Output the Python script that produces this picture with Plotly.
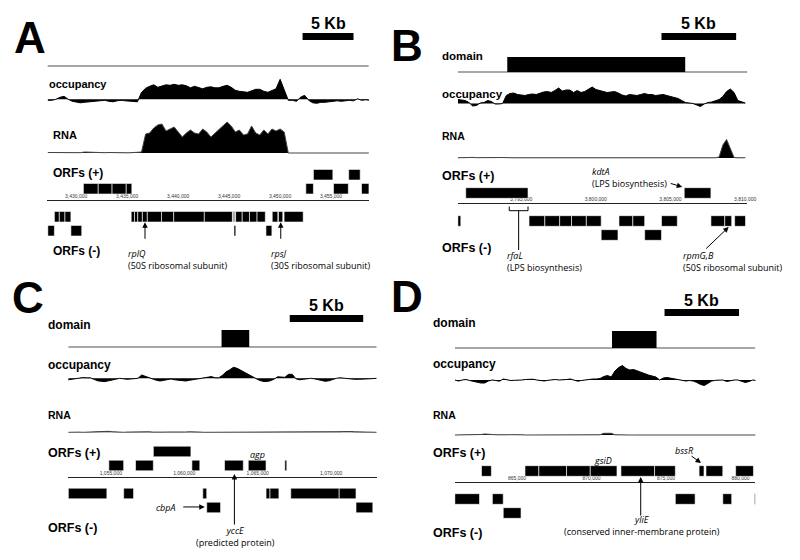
import plotly.graph_objects as go

W, H = 800, 560
SCALE_BP = 5000

# ---------------- panel A  (ribosomal operon, 3.43-3.46 Mb)
A_BIN_START = 3427700
A_BIN = 400
A_OCC = [-0.1, -0.1, 0.0, 0.2, 0.3, 0.0, -0.2, -0.3, -0.35, -0.3,
         -0.25, -0.2, -0.15, -0.1, -0.1, -0.2, -0.25, -0.15, -0.1, -0.15,
         -0.2, -0.25, -0.25, 0.7, 1.1, 1.3, 1.45, 1.2, 1.3, 1.45,
         1.4, 1.5, 1.4, 1.45, 1.35, 1.15, 1.3, 1.2, 1.05, 1.2,
         1.25, 1.15, 1.15, 1.3, 1.4, 1.2, 0.9, 0.8, 0.75, 0.7,
         0.85, 1.0, 1.0, 0.8, 0.7, 0.9, 1.05, 2.0, 0.9, -0.1,
         -0.1, -0.2, 0.2, 0.4, -0.1, -0.35, -0.4, -0.3, -0.3, -0.25,
         -0.2, -0.15, -0.2, -0.15, -0.1, -0.15, 0.05, -0.1, -0.05, -0.1]
A_RNA = [0.05, 0.05, 0.03, 0.02, 0.03, 0.02, 0.02, 0.02, 0.03, 0.1,
         0.08, 0.05, 0.05, 0.03, 0.03, 0.05, 0.06, 0.04, 0.03, 0.02,
         0.02, 0.03, 0.03, 0.1, 1.9, 2.0, 2.5, 2.8, 2.9, 2.2,
         2.4, 2.6, 2.1, 1.6, 2.0, 2.3, 2.0, 1.9, 2.4, 2.1,
         1.6, 2.0, 2.4, 2.7, 3.1, 2.7, 2.1, 2.3, 1.8, 1.9,
         2.7, 2.0, 1.8, 2.3, 1.9, 2.4, 2.2, 2.4, 2.1, 0.0,
         0, 0, 0, 0, 0, 0, 0, 0, 0, 0,
         0, 0, 0, 0, 0, 0, 0, 0, 0, 0]
# (start, end, row)
A_PLUS = [(3431196, 3432651, 1), (3432651, 3434009, 1), (3434009, 3435400, 1), (3435400, 3435949, 1),
          (3453021, 3453765, 1), (3455737, 3457192, 1), (3458486, 3459229, 1),
          (3453765, 3455673, 2), (3457225, 3458356, 2)]
A_MINUS = [(3428351, 3428836, 1), (3428836, 3429386, 1), (3429386, 3429968, 1),
           (3435885, 3436208, 1), (3436208, 3436531, 1), (3436531, 3436984, 1), (3436984, 3437469, 1),
           (3437469, 3438859, 1), (3438859, 3440055, 1), (3440055, 3443062, 1), (3443062, 3445811, 1),
           (3445908, 3446037, 1), (3446134, 3446781, 1), (3446781, 3447492, 1), (3447492, 3448236, 1),
           (3448236, 3449044, 1), (3449724, 3450273, 1), (3450337, 3450758, 1), (3450887, 3452762, 1),
           (3427704, 3428351, 2), (3429968, 3431035, 2), (3445970, 3446150, 2), (3449109, 3449691, 2)]
A_SCALE_START = 3452700
A_RPLQ = 3437240
A_RPSJ = 3450560

# ---------------- panel B  (rfaL / kdtA, 3.79-3.81 Mb)
B_BIN_START = 3790760
B_BIN = 250
B_OCC = [0.4, 0.35, 0.3, 0.1, -0.25, -0.2, 0.05, 0.1, 0.3, 0.2,
         -0.05, -0.05, 0.0, 0.8, 1.0, 1.05, 0.9, 0.85, 0.8, 0.9,
         0.95, 0.9, 1.05, 1.15, 1.2, 1.1, 1.3, 1.55, 1.25, 1.35,
         1.35, 1.1, 1.3, 1.1, 1.2, 1.45, 1.65, 1.4, 1.3, 1.2,
         1.1, 1.15, 1.2, 1.05, 0.85, 0.75, 0.9, 0.85, 0.8, 0.9,
         1.0, 0.9, 0.9, 0.8, 0.85, 0.9, 0.8, 0.7, 0.6, 0.5,
         0.3, 0.1, 0.05, 0.0, -0.15, -0.3, -0.05, 0.1, 0.15, 0.25,
         0.4, 0.7, 1.2, 1.45, 1.1, 0.3, 0.15, 0.05]
B_RNA = [0.02, 0.04, 0.08, 0.08, 0.06, 0.03, 0.02, 0.02, 0.02, 0.03,
         0.04, 0.05, 0.06, 0.05, 0.03, 0.02, 0.02, 0.02, 0.02, 0.02,
         0.02, 0.02, 0.02, 0.02, 0.02, 0.02, 0.02, 0.02, 0.02, 0.02,
         0.02, 0.02, 0.02, 0.02, 0.02, 0.02, 0.02, 0.02, 0.02, 0.02,
         0.02, 0.02, 0.02, 0.02, 0.02, 0.02, 0.02, 0.02, 0.02, 0.02,
         0.02, 0.02, 0.02, 0.02, 0.02, 0.02, 0.02, 0.02, 0.02, 0.02,
         0.02, 0.02, 0.02, 0.02, 0.02, 0.02, 0.02, 0.02, 0.02, 0.02,
         0.1, 1.3, 1.85, 1.0, 0.05, 0.02, 0.02, 0.02]
B_PLUS = [(3791293, 3795463, 1), (3805923, 3807710, 1)]
B_MINUS = [(3790763, 3790962, 1), (3795530, 3796589, 1), (3796589, 3797582, 1), (3797582, 3798376, 1),
           (3798376, 3799369, 1), (3799369, 3800362, 1), (3801554, 3802481, 1), (3802481, 3803275, 1),
           (3804400, 3805460, 1), (3807710, 3808637, 1), (3808637, 3809101, 1), (3809299, 3810027, 1),
           (3800362, 3801488, 2), (3803275, 3804400, 2)]
B_DOMAIN = (3794073, 3805989)
B_SCALE_START = 3804400
B_RFAL = (3794206, 3795463)
B_KDTA = 3805790
B_RPMGB = 3808900

# ---------------- panel C  (cbpA / yccE, 1.05-1.07 Mb)
C_BIN_START = 1052100
C_BIN = 250
C_OCC = [-0.15, -0.1, -0.05, 0.05, 0.07, 0.05, 0.05, -0.1, -0.25, -0.3,
         -0.33, -0.25, -0.15, -0.05, 0.0, -0.05, -0.1, -0.07, -0.03, 0.0,
         0.33, 0.2, 0.05, -0.1, -0.2, -0.27, -0.2, -0.1, -0.07, -0.15,
         -0.2, -0.25, -0.27, -0.2, -0.15, -0.1, -0.05, 0.0, 0.1, 0.17,
         0.05, 0.05, 0.3, 0.65, 0.85, 1.1, 1.0, 0.8, 0.6, 0.45,
         0.25, 0.0, -0.2, -0.3, -0.33, -0.25, -0.1, 0.15, 0.1, 0.1,
         0.4, 0.4, -0.05, -0.15, -0.1, -0.05, 0.0, -0.05, -0.15, -0.2,
         -0.3, -0.25, -0.1, 0.0, 0.05, 0.0, -0.03, -0.05, -0.1, -0.1,
         -0.05, -0.07, -0.05, -0.05, 0.0]
C_RNA = [0.0, 0.02, 0.03, 0.02, 0.0, 0.02, 0.03, 0.02, 0.03, 0.05,
         0.08, 0.1, 0.06, 0.03, 0.02, 0.0, 0.02, 0.03, 0.02, 0.05,
         0.08, 0.1, 0.05, 0.02, 0.0, 0.0, 0.02, 0.03, 0.02, 0.02,
         0.03, 0.02, 0.03, 0.05, 0.06, 0.04, 0.02, 0.0, 0.0, 0.02,
         0.02, 0.03, 0.02, 0.0, 0.0, 0.02, 0.02, 0.03, 0.02, 0.0,
         0.0, 0.02, 0.02, 0.0, 0.0, 0.02, 0.03, 0.02, 0.02, 0.0,
         0.0, 0.02, 0.02, 0.03, 0.02, 0.0, 0.0, 0.02, 0.02, 0.03,
         0.02, 0.02, 0.03, 0.05, 0.06, 0.08, 0.1, 0.08, 0.05, 0.03,
         0.02, 0.0, 0.0, 0.02, 0.0]
C_PLUS = [(1057894, 1060451, 2),
          (1054865, 1055875, 1), (1056683, 1057894, 1), (1060519, 1061057, 1), (1062740, 1064018, 1),
          (1064355, 1065566, 1), (1066845, 1066979, 1)]
C_MINUS = [(1052106, 1054731, 1), (1055875, 1056548, 1), (1061259, 1061528, 1), (1065566, 1065835, 1),
           (1065835, 1066441, 1), (1067249, 1070546, 1), (1070546, 1071690, 1),
           (1061528, 1062470, 2), (1071690, 1072835, 2)]
C_DOMAIN = (1062538, 1064422)
C_SCALE_START = 1067180
C_CBPA = 1061394
C_YCCE = 1063413

# ---------------- panel D  (gsiD / yliE, 0.86-0.88 Mb)
D_BIN_START = 860820
D_BIN = 250
D_OCC = [0.0, -0.1, 0.0, 0.05, -0.05, -0.1, -0.22, -0.3, -0.3, -0.1,
         0.0, -0.05, -0.12, 0.1, 0.0, -0.05, -0.03, -0.03, 0.0, 0.05,
         0.1, 0.08, 0.0, -0.05, -0.1, -0.03, 0.0, 0.05, 0.0, 0.0,
         0.05, 0.1, -0.05, -0.12, -0.05, 0.02, 0.08, 0.1, 0.1, 0.15,
         0.35, 0.45, 0.3, 0.9, 1.25, 1.45, 1.15, 1.0, 1.05, 0.9,
         0.75, 0.65, 0.5, 0.4, 0.3, 0.0, 0.2, 0.25, 0.18, 0.12,
         0.05, -0.05, -0.1, -0.05, -0.1, -0.25, -0.45, -0.55, -0.3, -0.1,
         -0.03, 0.0, 0.0, -0.15, -0.05, 0.0, 0.0, -0.15, -0.25, -0.15,
         0.0, -0.05]
D_RNA = [0.0, 0.0, 0.0, 0.02, 0.02, 0.02, 0.03, 0.05, 0.1, 0.1,
         0.05, 0.02, 0.0, 0.0, 0.02, 0.03, 0.05, 0.03, 0.02, 0.0,
         0.0, 0.02, 0.02, 0.0, 0.0, 0.0, 0.02, 0.0, 0.0, 0.0,
         0.0, 0.0, 0.02, 0.02, 0.0, 0.0, 0.0, 0.0, 0.0, 0.02,
         0.17, 0.17, 0.17, 0.02, 0.0, 0.0, 0.0, 0.0, 0.0, 0.0,
         0.0, 0.0, 0.0, 0.0, 0.0, 0.0, 0.0, 0.02, 0.02, 0.0,
         0.0, 0.0, 0.0, 0.02, 0.04, 0.05, 0.04, 0.02, 0.0, 0.0,
         0.0, 0.0, 0.0, 0.0, 0.0, 0.0, 0.0, 0.0, 0.0, 0.0,
         0.0, 0.0]
D_PLUS = [(862610, 863274, 1), (865531, 866461, 1), (866461, 868320, 1), (868320, 869914, 1),
          (869914, 871706, 1), (871972, 874230, 1), (874230, 875624, 1), (877218, 877550, 1),
          (877682, 878811, 1), (879674, 880870, 1)]
D_MINUS = [(860817, 862477, 1), (863340, 864070, 1), (875624, 876952, 1), (878811, 879409, 1),
           (880936, 881000, 1), (864070, 865266, 2)]
D_DOMAIN = (871374, 874362)
D_SCALE_START = 874900
D_BSSR = 877350
D_YLIE = 873300


def py(p):
    return 1 - p / H


PANELS = [
    dict(letter="A", letter_xy=(30, 38), xpx=(48, 373), xrange=(3427670, 3459200),
         bins=(A_BIN_START, A_BIN), occ=A_OCC, rna=A_RNA, plus=A_PLUS, minus=A_MINUS,
         domain=None, dom_y=None, line_y=66, occ_base=99.3, rna_base=153, orf_mid=202.7, axis_y=200,
         bar_start=A_SCALE_START, bar_y=(33, 40), kb_y=24, tickshift=5,
         labels=[("occupancy", 48, 84, 11), ("RNA", 52, 135, 11),
                 ("ORFs (+)", 52, 173, 12), ("ORFs (-)", 52, 251, 12)]),
    dict(letter="B", letter_xy=(412, 45), xpx=(463, 756), xrange=(3790760, 3810160),
         bins=(B_BIN_START, B_BIN), occ=B_OCC, rna=B_RNA, plus=B_PLUS, minus=B_MINUS,
         domain=B_DOMAIN, dom_y=(57, 72), line_y=72, occ_base=103.5, rna_base=158, orf_mid=207, axis_y=203,
         bar_start=B_SCALE_START, bar_y=(33, 40), kb_y=24, tickshift=0,
         labels=[("domain", 445, 56, 11.5), ("occupancy", 445, 94, 11.5), ("RNA", 445, 136, 10.5),
                 ("ORFs (+)", 445, 176, 12.5), ("ORFs (-)", 445, 248, 12.5)]),
    dict(letter="C", letter_xy=(28, 297), xpx=(69, 381), xrange=(1052100, 1073100),
         bins=(C_BIN_START, C_BIN), occ=C_OCC, rna=C_RNA, plus=C_PLUS, minus=C_MINUS,
         domain=C_DOMAIN, dom_y=(330, 347), line_y=347, occ_base=378.3, rna_base=432.3, orf_mid=479.5,
         axis_y=477, bar_start=C_SCALE_START, bar_y=(315, 322), kb_y=305, tickshift=0,
         labels=[("domain", 47, 325, 12), ("occupancy", 47, 365, 12), ("RNA", 47, 415, 10.5),
                 ("ORFs (+)", 47, 453, 12.5), ("ORFs (-)", 47, 528, 12.5)]),
    dict(letter="D", letter_xy=(412, 296), xpx=(460, 764), xrange=(860820, 881000),
         bins=(D_BIN_START, D_BIN), occ=D_OCC, rna=D_RNA, plus=D_PLUS, minus=D_MINUS,
         domain=D_DOMAIN, dom_y=(331, 348), line_y=348, occ_base=380, rna_base=435, orf_mid=485,
         axis_y=482, bar_start=D_SCALE_START, bar_y=(309, 316), kb_y=300, tickshift=0,
         labels=[("domain", 436, 323, 12), ("occupancy", 436, 364, 12), ("RNA", 436, 415, 10.5),
                 ("ORFs (+)", 436, 453, 12.5), ("ORFs (-)", 436, 533, 12.5)]),
]

ROW_PX = 14.0
BOX_HALF = 0.38
SANS = "Liberation Sans"
NOTE = "Open Sans"

fig = go.Figure()
lay = {}
shapes = []
annotations = []
axis_names = []

for k, p in enumerate(PANELS):
    xs_ = "" if k == 0 else str(k + 1)
    xn = "x" + xs_
    ynames = []
    for j in range(3):
        n = 3 * k + j + 1
        ynames.append("y" + ("" if n == 1 else str(n)))
    yocc, yrna, yorf = ynames
    axis_names.append((xn, yorf))

    x0, x1 = p["xpx"]
    lay["xaxis" + xs_] = dict(
        domain=[x0 / W, x1 / W], range=list(p["xrange"]), anchor="free",
        position=py(p["axis_y"]), side="top", showline=True, linecolor="#222", linewidth=1,
        ticks="", tickformat=",d", tick0=0, dtick=SCALE_BP, showgrid=False, zeroline=False,
        tickfont=dict(family=SANS, size=5, color="#333"), ticklabelshift=p["tickshift"],
        fixedrange=True)

    def yaxis(top, bottom, lo, hi):
        return dict(domain=[py(bottom), py(top)], range=[lo, hi], visible=False,
                    anchor=xn, fixedrange=True)

    b = p["occ_base"]
    lay["yaxis" + yocc[1:]] = yaxis(b - 25, b + 10, -1.0, 2.5)
    b = p["rna_base"]
    lay["yaxis" + yrna[1:]] = yaxis(b - 35, b + 5, -0.5, 3.5)
    c = p["orf_mid"]
    lay["yaxis" + yorf[1:]] = yaxis(c - 2.6 * ROW_PX, c + 2.6 * ROW_PX, -2.6, 2.6)

    start, step = p["bins"]
    xo = [start + i * step for i in range(len(p["occ"]))]
    fig.add_trace(go.Scatter(x=xo, y=p["occ"], mode="lines", fill="tozeroy", fillcolor="black",
                             line=dict(color="black", width=1), xaxis=xn, yaxis=yocc,
                             hoverinfo="skip", showlegend=False))
    xr = [start + i * step for i in range(len(p["rna"]))]
    fig.add_trace(go.Scatter(x=xr, y=p["rna"], mode="lines", fill="tozeroy", fillcolor="black",
                             line=dict(color="#444", width=1), xaxis=xn, yaxis=yrna,
                             hoverinfo="skip", showlegend=False))

    # genes
    for s, e, row in p["plus"]:
        shapes.append(dict(type="rect", xref=xn, yref=yorf, x0=s, x1=e,
                           y0=row - BOX_HALF, y1=row + BOX_HALF, fillcolor="black",
                           line=dict(color="white", width=0.6), layer="above"))
    for s, e, row in p["minus"]:
        shapes.append(dict(type="rect", xref=xn, yref=yorf, x0=s, x1=e,
                           y0=-row - BOX_HALF, y1=-row + BOX_HALF, fillcolor="black",
                           line=dict(color="white", width=0.6), layer="above"))

    # domain track
    shapes.append(dict(type="line", xref=xn, yref="paper", x0=p["xrange"][0], x1=p["xrange"][1],
                       y0=py(p["line_y"]), y1=py(p["line_y"]), line=dict(color="#8a8a8a", width=1.3)))
    if p["domain"]:
        t, bt = p["dom_y"]
        shapes.append(dict(type="rect", xref=xn, yref="paper", x0=p["domain"][0], x1=p["domain"][1],
                           y0=py(bt), y1=py(t), fillcolor="black", line=dict(width=0)))

    # scale bar
    t, bt = p["bar_y"]
    shapes.append(dict(type="rect", xref=xn, yref="paper", x0=p["bar_start"],
                       x1=p["bar_start"] + SCALE_BP, y0=py(bt), y1=py(t), fillcolor="black",
                       line=dict(width=0)))
    annotations.append(dict(text="<b>5 Kb</b>", xref=xn, yref="paper",
                            x=p["bar_start"] + SCALE_BP / 2, y=py(p["kb_y"]), showarrow=False,
                            font=dict(family=SANS, size=16, color="black"),
                            xanchor="center", yanchor="middle"))

    lx, ly = p["letter_xy"]
    annotations.append(dict(text="<b>%s</b>" % p["letter"], xref="paper", yref="paper",
                            x=lx / W, y=py(ly), showarrow=False, xanchor="center", yanchor="middle",
                            font=dict(family=SANS, size=44, color="black")))
    for txt, tx, ty, fs in p["labels"]:
        annotations.append(dict(text="<b>%s</b>" % txt, xref="paper", yref="paper",
                                x=tx / W, y=py(ty), showarrow=False, xanchor="left", yanchor="middle",
                                font=dict(family=SANS, size=fs, color="black")))


def note(txt, x, y, anchor="left", size=9):
    annotations.append(dict(text=txt, xref="paper", yref="paper", x=x / W, y=py(y),
                            showarrow=False, xanchor=anchor, yanchor="middle", align=anchor,
                            borderpad=0, font=dict(family=NOTE, size=size, color="black")))


def pointer(k, bp, row, ax, ay):
    xn, yn = axis_names[k]
    annotations.append(dict(text="", x=bp, y=row, xref=xn, yref=yn, ax=ax, ay=ay,
                            showarrow=True, arrowhead=2, arrowsize=1.1, arrowwidth=1,
                            arrowcolor="black"))


# panel A notes
pointer(0, A_RPLQ, -1.4, 0, 18)
pointer(0, A_RPSJ, -1.4, 0, 18)
note("<i>rplQ</i><br>(50S ribosomal subunit)", 128, 259.5)
note("<i>rpsJ</i><br>(30S ribosomal subunit)", 273, 259.5)

# panel B notes
pointer(1, B_KDTA, 1.43, -13, -4)
pointer(1, B_RPMGB, -1.43, -24, 23)
note("<i>kdtA</i><br>(LPS biosynthesis)", 598, 177.5)
note("<i>rfaL</i><br>(LPS biosynthesis)", 512, 261.5)
note("<i>rpmG,B</i><br>(50S ribosomal subunit)", 690, 261.5)
rs, re = B_RFAL
mid = (rs + re) / 2
for xa, xb, ya, yb in [(rs, re, 210.7, 210.7), (rs, rs, 206.5, 210.7), (re, re, 206.5, 210.7),
                       (mid, mid, 210.7, 250)]:
    shapes.append(dict(type="line", xref="x2", yref="paper", x0=xa, x1=xb, y0=py(ya), y1=py(yb),
                       line=dict(color="black", width=1)))

# panel C notes
pointer(2, C_CBPA, -1.96, -23, 0)
pointer(2, C_YCCE, 0.39, 0, 52)
note("<i>agp</i>", 260, 454, "center")
note("<i>cbpA</i>", 157, 507)
note("<i>yccE</i><br>(predicted protein)", 238, 536, "center")

# panel D notes
pointer(3, D_BSSR, 1.57, -11, -8)
pointer(3, D_YLIE, 0.57, 0, 40)
note("<i>gsiD</i>", 610, 460, "center")
note("<i>bssR</i>", 692, 450, "center")
note("<i>yliE</i><br>(conserved inner-membrane protein)", 649, 525.5, "center")

fig.update_layout(width=W, height=H, margin=dict(l=0, r=0, t=0, b=0),
                  paper_bgcolor="white", plot_bgcolor="white", showlegend=False,
                  shapes=shapes, annotations=annotations, **lay)

# the page's default 8px body margin would push the whole figure off its grid
fig.write_html("out.html", config={"displayModeBar": False},
               post_script="document.body.style.margin='0px';")
